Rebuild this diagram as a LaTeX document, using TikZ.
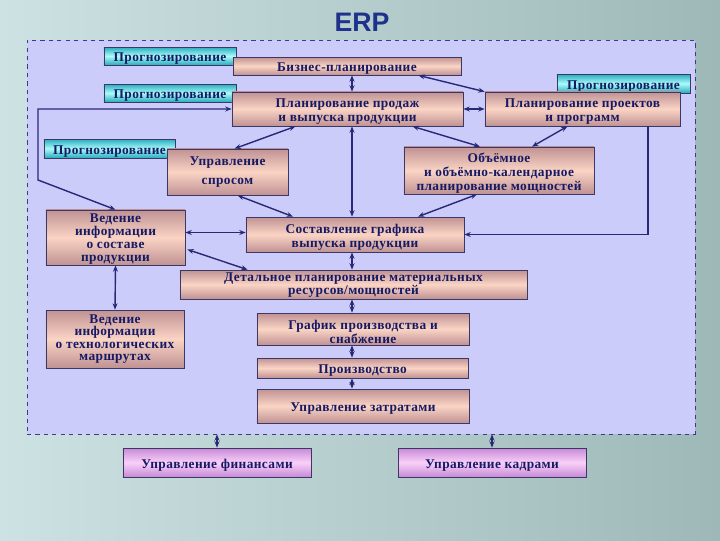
\documentclass[tikz,border=0pt]{standalone}
\usepackage{fontspec}
\setmainfont{Liberation Serif}
\newfontfamily\boxfont[LetterSpace=3]{Liberation Serif}
\newfontfamily\titlefont{Liberation Sans}
\usepackage{tikz}
\usetikzlibrary{arrows.meta,calc}
\definecolor{bgl}{RGB}{205,226,226}
\definecolor{bgr}{RGB}{158,184,184}
\definecolor{framebg}{RGB}{204,204,250}
\definecolor{framec}{RGB}{60,60,140}
\definecolor{pkmid}{RGB}{250,212,196}
\definecolor{pkedge}{RGB}{192,146,148}
\definecolor{cymid}{RGB}{172,250,250}
\definecolor{cyedge}{RGB}{38,172,190}
\definecolor{limid}{RGB}{250,208,250}
\definecolor{liedge}{RGB}{198,138,214}
\definecolor{boxline}{RGB}{60,55,100}
\definecolor{inkc}{RGB}{22,26,100}
\definecolor{linkc}{RGB}{40,40,120}
\definecolor{titlec}{RGB}{30,50,140}

\begin{document}
\begin{tikzpicture}[x=0.025cm, y=-0.025cm,
  font={\boxfont\bfseries\fontsize{9.5}{10}\selectfont},
  >={Stealth[length=4.5pt,width=3.5pt]},
  boxbase/.style={draw=boxline, line width=0.5pt, text=inkc, align=center, inner sep=0pt,
    execute at begin node={\rule{0pt}{10.5pt}}},
  nlines/.style={execute at begin node={\rule{0pt}{#1pt}}},
  tight/.style={font={\boxfont\bfseries\fontsize{9.5}{#1}\selectfont}},
  pinkbox/.style={boxbase, top color=pkedge, bottom color=pkedge, middle color=pkmid},
  cyanbox/.style={boxbase, top color=cyedge, bottom color=cyedge, middle color=cymid},
  lilacbox/.style={boxbase, top color=liedge, bottom color=liedge, middle color=limid},
  link/.style={draw=linkc, line width=1pt}]
  \shade[left color=bgl, right color=bgr] (0,0) rectangle (720,540);
  \node[text=titlec, font={\titlefont\bfseries\fontsize{19}{20}\selectfont}] (title) at (362,22) {ERP};
  \node[draw=framec, dashed, fill=framebg, minimum width=16.7cm, minimum height=9.85cm] (frame) at (361,237) {};

  \node[cyanbox, minimum width=3.3cm, minimum height=0.45cm] (fc1) at (170,56) {Прогнозирование};
  \node[cyanbox, minimum width=3.3cm, minimum height=0.45cm] (fc2) at (170,93) {Прогнозирование};
  \node[cyanbox, minimum width=3.325cm, minimum height=0.475cm] (fc3) at (623.5,83.5) {Прогнозирование};
  \node[cyanbox, minimum width=3.275cm, minimum height=0.475cm] (fc4) at (109.5,148.5) {Прогнозирование};

  \node[pinkbox, minimum width=5.7cm, minimum height=0.45cm] (biz) at (347,66) {Бизнес-планирование};
  \node[pinkbox, nlines=20.5, minimum width=5.775cm, minimum height=0.85cm] (sales) at (347.5,109) {Планирование продаж\\и выпуска продукции};
  \node[pinkbox, nlines=20.5, minimum width=4.875cm, minimum height=0.85cm] (proj) at (582.5,109) {Планирование проектов\\и программ};
  \node[pinkbox, minimum width=3.025cm, minimum height=1.15cm] (demand) at (227.5,172) {Управление\\[3pt]спросом};
  \node[pinkbox, nlines=30.5, minimum width=4.75cm, minimum height=1.175cm] (capac) at (499,170.5) {Объёмное\\и объёмно-календарное\\планирование мощностей};
  \node[pinkbox, tight=9.4, nlines=36.4, minimum width=3.475cm, minimum height=1.375cm] (bom) at (115.5,237.5) {Ведение\\информации\\о составе\\продукции};
  \node[pinkbox, nlines=20.5, minimum width=5.45cm, minimum height=0.875cm] (sched) at (355,234.5) {Составление графика\\выпуска продукции};
  \node[pinkbox, tight=8.5, nlines=16.5, minimum width=8.675cm, minimum height=0.725cm] (mrp) at (353.5,284.5) {Детальное планирование материальных\\ресурсов/мощностей};
  \node[pinkbox, tight=8.8, minimum width=3.45cm, minimum height=1.45cm] (route) at (115,339) {Ведение\\информации\\о технологических\\маршрутах};
  \node[pinkbox, nlines=20.5, minimum width=5.3cm, minimum height=0.8cm] (supply) at (363,329) {График производства и\\снабжение};
  \node[pinkbox, minimum width=5.275cm, minimum height=0.5cm] (prod) at (362.5,368) {Производство};
  \node[pinkbox, minimum width=5.3cm, minimum height=0.85cm] (cost) at (363,406) {Управление затратами};
  \node[lilacbox, minimum width=4.7cm, minimum height=0.725cm] (fin) at (217,462.5) {Управление финансами};
  \node[lilacbox, minimum width=4.7cm, minimum height=0.725cm] (hr) at (492,462.5) {Управление кадрами};

  \coordinate (trunk) at (352,0);
  \coordinate (projS) at ($(proj.south)+(65.5,0)$);
  \coordinate (bomE) at ($(bom.east)+(0,-5)$);
  \coordinate (bend) at (38,180);
  \draw[link, <->] (biz.south -| trunk) -- (sales.north -| trunk);
  \draw[link, <->] ($(biz.south east)+(-43,0)$) -- (proj.north west);
  \draw[link, <->] (sales.east) -- (proj.west);
  \draw[link, <->] ($(sales.south)+(-52,0)$) -- ($(demand.north)+(7,0)$);
  \draw[link, <->] ($(sales.south)+(65,0)$) -- ($(capac.north)+(-19,0)$);
  \draw[link, <->] ($(proj.south)+(-15,0)$) -- ($(capac.north)+(33,0)$);
  \draw[link, <->] (sales.south -| trunk) -- (sched.north -| trunk);
  \draw[link, <->] ($(demand.south)+(10,0)$) -- ($(sched.north)+(-62,0)$);
  \draw[link, <->] ($(capac.south)+(-22,0)$) -- ($(sched.north)+(63,0)$);
  \draw[link, ->] (projS) |- (sched.east);
  \draw[link, <->] (bomE) -- (bomE -| sched.west);
  \draw[link, <->] ($(bom.east)+(2,12)$) -- ($(mrp.north west)+(68,0)$);
  \draw[link, <->] (bom.south) -- (route.north);
  \draw[link, <->] (bom.north) -- (bend) |- (sales.west);
  \draw[link, <->] (sched.south -| trunk) -- (mrp.north -| trunk);
  \draw[link, <->] (mrp.south -| trunk) -- (supply.north -| trunk);
  \draw[link, <->] (supply.south -| trunk) -- (prod.north -| trunk);
  \draw[link, <->] (prod.south -| trunk) -- (cost.north -| trunk);
  \draw[link, <->] (frame.south -| fin.north) -- (fin.north);
  \draw[link, <->] (frame.south -| hr.north) -- (hr.north);
\end{tikzpicture}
\end{document}
